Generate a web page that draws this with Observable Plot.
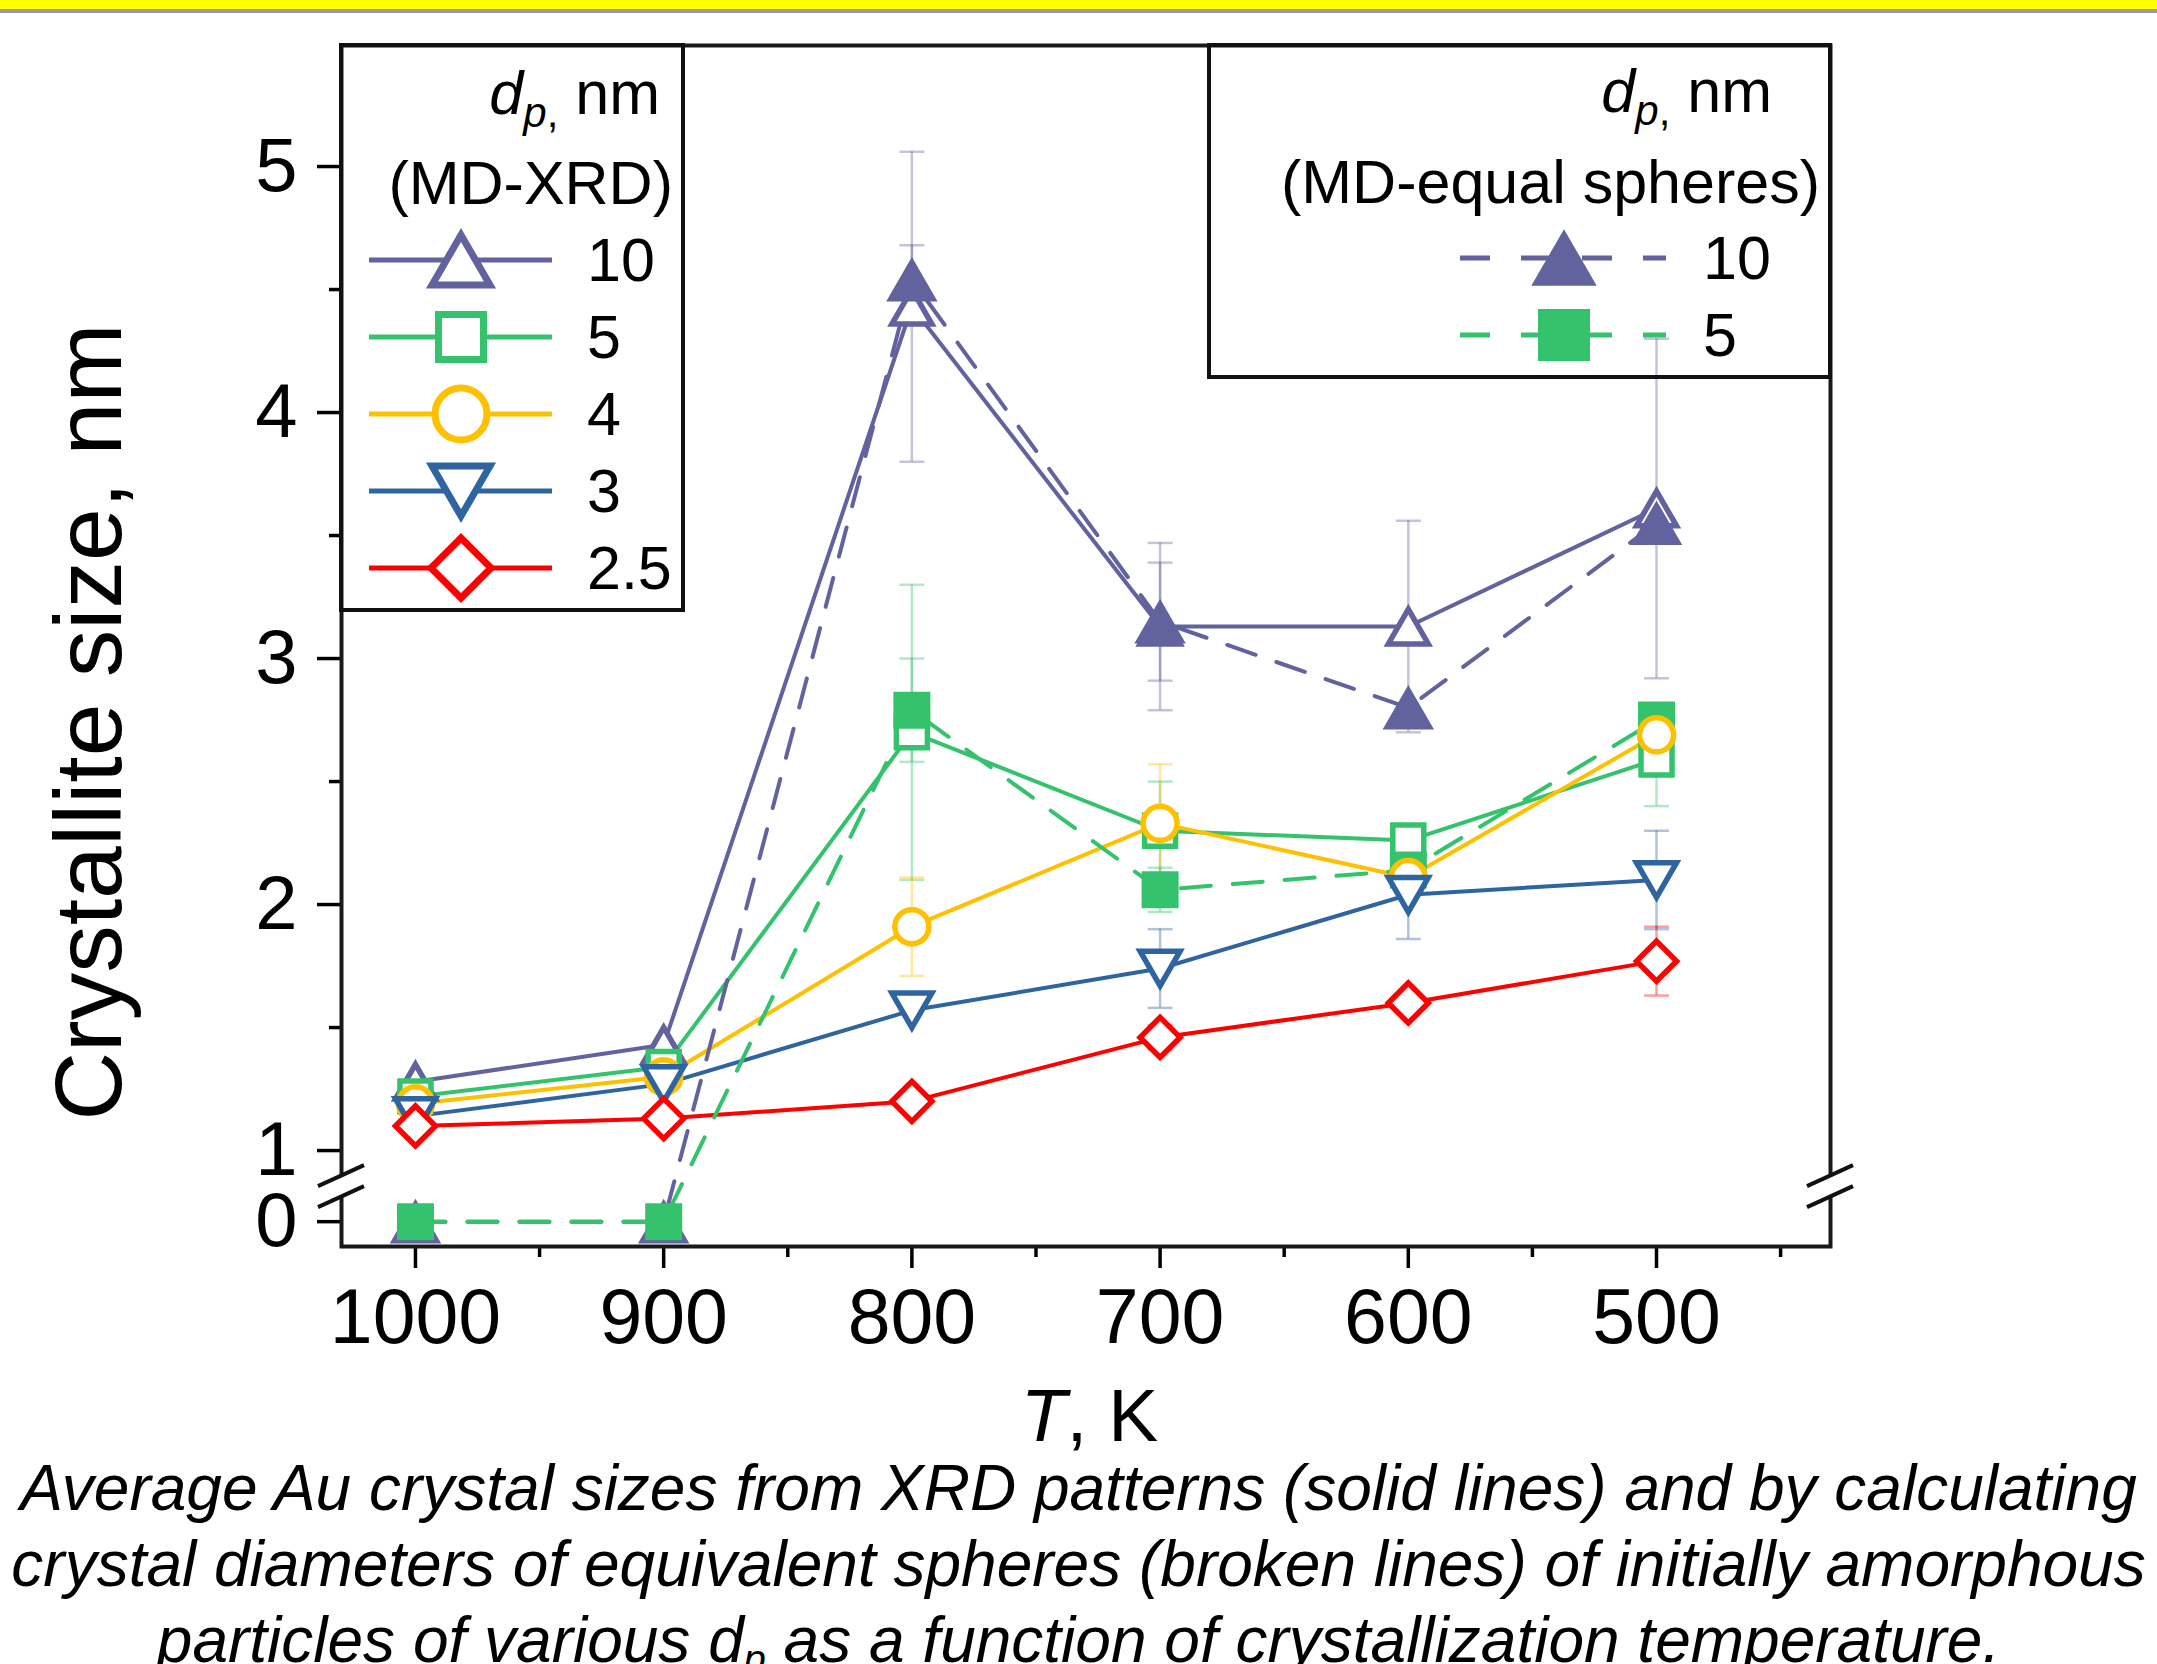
<!DOCTYPE html>
<html><head><meta charset="utf-8">
<script src="https://cdn.jsdelivr.net/npm/d3@7"></script>
<script src="https://cdn.jsdelivr.net/npm/@observablehq/plot@0.6"></script>
<style>
html,body{margin:0;padding:0;background:#fff;overflow:hidden;width:2157px;height:1664px;}
#band{position:absolute;left:0;top:0;width:2157px;height:9px;background:#ffff00;border-bottom:4px solid #9a9a9a;z-index:2}
#chart{position:absolute;left:0;top:0}
#caption{position:absolute;left:0;top:1450px;width:2157px;text-align:center;font:italic 64px/76px "Liberation Sans",Arial,sans-serif;color:#000}
#caption sub{font-size:0.62em;line-height:0;vertical-align:-0.25em}
</style></head><body>
<div id="band"></div>
<div id="chart"></div>
<div id="caption">Average Au crystal sizes from XRD patterns (solid lines) and by calculating<br>crystal diameters of equivalent spheres (broken lines) of initially amorphous<br>particles of various d<sub>p</sub> as a function of crystallization temperature.</div>
<script>
// ---- data ----
const temps = [1000, 900, 800, 700, 600, 500];
const minorTemps = [950, 850, 750, 650, 550, 450];
const yTicks = [0, 1, 2, 3, 4, 5];
const yMinorTicks = [1.5, 2.5, 3.5, 4.5];
// MD-XRD (solid lines)
const xrd10 = [1.28, 1.43, 4.43, 3.13, 3.13, 3.61];
const xrd5  = [1.22, 1.34, 2.70, 2.30, 2.26, 2.59];
const xrd4  = [1.19, 1.30, 1.91, 2.33, 2.11, 2.69];
const xrd3  = [1.14, 1.27, 1.57, 1.74, 2.04, 2.10];
const xrd25 = [1.10, 1.13, 1.20, 1.46, 1.60, 1.77];
// MD-equal spheres (broken lines)
const sph10 = [0, 0, 4.54, 3.15, 2.80, 3.55];
const sph5  = [0, 0, 2.79, 2.06, 2.14, 2.75];
// error half-widths
const err10    = [null, null, 0.63, 0.34, 0.43, 0.69];
const errSph10 = [null, null, 0.14, 0.24, null, null];
const err5     = [null, null, 0.60, 0.20, null, 0.19];
const errSph5  = [null, null, 0.21, 0.09, null, null];
const err4     = [null, null, 0.20, 0.24, null, 0.08];
const err3     = [null, null, null, 0.16, 0.18, 0.20];
const err25    = [null, null, null, 0.05, null, 0.14];
const sizeLabels = ["10", "5", "4", "3", "2.5"];
const sphLabels = ["10", "5"];

// ---- broken y axis: value 0 is drawn at this position ----
const Y0 = 0.711;
const yd = v => v === 0 ? Y0 : v;

// ---- symbols ----
function poly(pts){return {draw(ctx,size){const s=Math.sqrt(size/Math.PI);ctx.moveTo(pts[0][0]*s,pts[0][1]*s);for(let i=1;i<pts.length;i++)ctx.lineTo(pts[i][0]*s,pts[i][1]*s);ctx.closePath();}};}
const triUp = poly([[0,-0.866],[1,0.866],[-1,0.866]]);
const triDown = poly([[0,0.866],[1,-0.866],[-1,-0.866]]);
const diamond = poly([[0,-1],[1,0],[0,1],[-1,0]]);
const square = poly([[-1,-1],[1,-1],[1,1],[-1,1]]);
const circle = {draw(ctx,size){const s=Math.sqrt(size/Math.PI);ctx.moveTo(s,0);ctx.arc(0,0,s,0,2*Math.PI);}};
const hline = {draw(ctx,size){const s=Math.sqrt(size/Math.PI);ctx.moveTo(-s,0);ctx.lineTo(s,0);}};

const C = {purple:"#62629e", green:"#34c36c", yellow:"#ffc000", blue:"#2e64a0", red:"#ff0000"};

const series = [
  {vals:xrd10, err:err10, color:C.purple, sym:triUp, r:20, filled:false, dashed:false, legR:29},
  {vals:xrd5, err:err5, color:C.green, sym:square, r:15.5, filled:false, dashed:false, legR:22.5},
  {vals:xrd4, err:err4, color:C.yellow, sym:circle, r:17, filled:false, dashed:false, legR:26},
  {vals:xrd3, err:err3, color:C.blue, sym:triDown, r:20, filled:false, dashed:false, legR:29},
  {vals:xrd25, err:err25, color:C.red, sym:diamond, r:20, filled:false, dashed:false, legR:30}
];
const sphSeries = [
  {vals:sph10, err:errSph10, color:C.purple, sym:triUp, r:24, filled:true, dashed:true, legR:31},
  {vals:sph5, err:errSph5, color:C.green, sym:square, r:17.5, filled:true, dashed:true, legR:25}
];
const all = [...series, ...sphSeries];
const rowsOf = s => temps.map((t,i)=>({t, v:s.vals[i], e:s.err[i]}));

const marks = [];
// error bars
for (const s of all) {
  const er = rowsOf(s).filter(d => d.e != null);
  marks.push(Plot.ruleX(er, {x:"t", y1:d=>d.v-d.e, y2:d=>d.v+d.e, stroke:s.color, strokeOpacity:0.38, strokeWidth:2.5}));
  marks.push(Plot.dot(er, {x:"t", y:d=>d.v+d.e, symbol:hline, r:12.5, stroke:s.color, strokeOpacity:0.38, strokeWidth:2.5, fill:"none"}));
  marks.push(Plot.dot(er, {x:"t", y:d=>d.v-d.e, symbol:hline, r:12.5, stroke:s.color, strokeOpacity:0.38, strokeWidth:2.5, fill:"none"}));
}
// lines
for (const s of all) {
  marks.push(Plot.line(rowsOf(s), {x:"t", y:d=>yd(d.v), stroke:s.color, strokeWidth:4, strokeDasharray:s.dashed?"30,22":null}));
}
// markers
const order = [series[0], sphSeries[0], series[1], sphSeries[1], series[2], series[3], series[4]];
for (const s of order) {
  marks.push(Plot.dot(rowsOf(s), {x:"t", y:d=>yd(d.v), symbol:s.sym, r:s.r, stroke:s.color, strokeWidth:s.filled?2:5.5, fill:s.filled?s.color:"white", strokeLinejoin:"miter"}));
}
// axes
marks.push(Plot.axisY({ticks:yTicks.map(yd), tickFormat:d=>d===Y0?"0":String(d), tickSize:24, tickPadding:20, fontSize:76, strokeWidth:3.5, label:null}));
marks.push(Plot.axisY({ticks:yMinorTicks, tickFormat:()=>"", tickSize:12, strokeWidth:3.5, label:null}));
marks.push(Plot.axisX({ticks:temps, tickFormat:d=>String(d), tickSize:22, tickPadding:20, fontSize:77, strokeWidth:3.5, label:null}));
marks.push(Plot.axisX({ticks:minorTemps, tickFormat:()=>"", tickSize:11, strokeWidth:3.5, label:null}));
marks.push(Plot.frame({stroke:"#1a1a1a", strokeWidth:4}));

const W = 2157, H = 1450;
const plot = Plot.plot({
  width:W, height:H,
  marginLeft:341, marginRight:327, marginTop:45, marginBottom:H-1246,
  x:{type:"linear", domain:[1029.8, 429.9]},
  y:{type:"linear", domain:[0.61, 5.492]},
  style:{fontFamily:"'Liberation Sans', Arial, sans-serif", color:"#000", background:"transparent", overflow:"visible"},
  marks
});
document.getElementById("chart").append(plot);

// ---- decorations ----
const svg = d3.select(plot);
const sy = plot.scale("y");
const xL = 341, xR = W - 327;
const yb = sy.apply((Y0 + 1) / 2);
const deco = svg.append("g").attr("text-anchor","start");
for (const xa of [xL, xR]) {
  deco.append("path").attr("d", `M${xa-23},${yb+0.5}L${xa+23},${yb-20.5}L${xa+23},${yb+0.5}L${xa-23},${yb+21.5}Z`).attr("fill","white");
  deco.append("path").attr("d", `M${xa-23},${yb+0.5}L${xa+23},${yb-20.5}`).attr("stroke","#111").attr("stroke-width",4);
  deco.append("path").attr("d", `M${xa-23},${yb+21.5}L${xa+23},${yb+0.5}`).attr("stroke","#111").attr("stroke-width",4);
}
const FF = "'Liberation Sans', Arial, sans-serif";
// axis titles
deco.append("text").attr("transform","translate(121,722) rotate(-90)").attr("text-anchor","middle")
  .attr("font-size",95).attr("font-family",FF).attr("fill","#000").text("Crystallite size, nm");
const tk = deco.append("text").attr("x",(xL+xR)/2+4).attr("y",1441).attr("text-anchor","middle")
  .attr("font-size",75).attr("font-family",FF).attr("fill","#000");
tk.append("tspan").attr("font-style","italic").text("T");
tk.append("tspan").text(", K");

function symPath(sym, r){const p=d3.path();sym.draw(p,r*r*Math.PI);return p.toString();}
function header(g, xEnd1, xEnd2, y1, y2, sub2){
  const t = g.append("text").attr("x",xEnd1).attr("y",y1).attr("text-anchor","end").attr("font-size",61).attr("font-family",FF);
  t.append("tspan").attr("font-style","italic").text("d");
  t.append("tspan").attr("font-style","italic").attr("font-size",42).attr("dy",13).text("p");
  t.append("tspan").attr("font-size",42).text(",");
  t.append("tspan").attr("dy",-13).text(" nm");
  g.append("text").attr("x",xEnd2).attr("y",y2).attr("text-anchor","end").attr("font-size",61).attr("font-family",FF).text(sub2);
}
// legend 1
const L1 = deco.append("g");
L1.append("rect").attr("x",341).attr("y",45).attr("width",342).attr("height",565).attr("fill","none").attr("stroke","#111").attr("stroke-width",4);
header(L1, 660, 673, 114, 204, "(MD-XRD)");
series.forEach((s,i)=>{
  const y = 260 + i*77;
  L1.append("line").attr("x1",369).attr("x2",552).attr("y1",y).attr("y2",y).attr("stroke",s.color).attr("stroke-width",5);
  L1.append("path").attr("d",symPath(s.sym,s.legR)).attr("transform",`translate(461,${y})`).attr("fill","white").attr("stroke",s.color).attr("stroke-width",7).attr("stroke-linejoin","miter");
  L1.append("text").attr("x",587).attr("y",y).attr("dy","0.35em").attr("text-anchor","start").attr("font-size",61).attr("font-family",FF).text(sizeLabels[i]);
});
// legend 2
const L2 = deco.append("g");
L2.append("rect").attr("x",1209).attr("y",45).attr("width",621).attr("height",332).attr("fill","none").attr("stroke","#111").attr("stroke-width",4);
header(L2, 1772, 1820, 112, 203, "(MD-equal spheres)");
sphSeries.forEach((s,i)=>{
  const y = 258 + i*77;
  L2.append("line").attr("x1",1460).attr("x2",1666).attr("y1",y).attr("y2",y).attr("stroke",s.color).attr("stroke-width",5).attr("stroke-dasharray","30,31");
  L2.append("path").attr("d",symPath(s.sym,s.legR)).attr("transform",`translate(1564,${y})`).attr("fill",s.color).attr("stroke",s.color).attr("stroke-width",2);
  L2.append("text").attr("x",1703).attr("y",y).attr("dy","0.35em").attr("text-anchor","start").attr("font-size",61).attr("font-family",FF).text(sphLabels[i]);
});
</script>
</body></html>
